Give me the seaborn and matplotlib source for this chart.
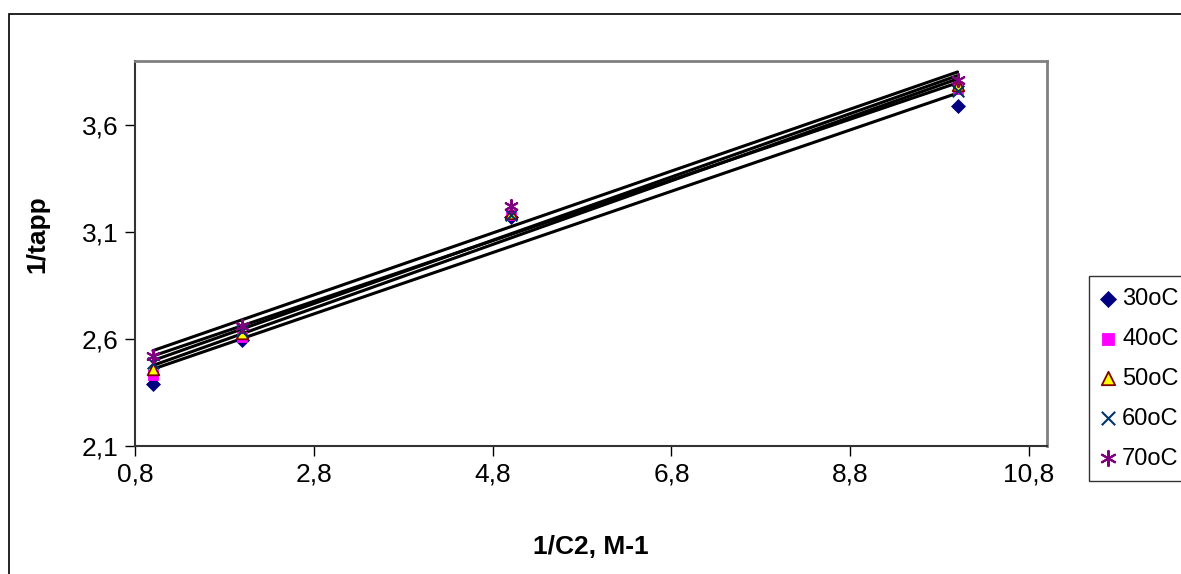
#!/usr/bin/env python3

import numpy as np
import pandas as pd
import seaborn as sns
import matplotlib.pyplot as plt
from matplotlib.patches import Rectangle
from matplotlib.ticker import FuncFormatter

# 1/C2 values (M-1) and 1/tapp for each temperature
inv_c2 = [1.0, 2.0, 5.0, 10.0]
t30 = [2.39, 2.595, 3.17, 3.69]
t40 = [2.43, 2.61, 3.18, 3.77]
t50 = [2.46, 2.63, 3.19, 3.79]
t60 = [2.49, 2.64, 3.18, 3.76]
t70 = [2.52, 2.66, 3.22, 3.81]
labels = ['30oC', '40oC', '50oC', '60oC', '70oC']
x_ticks = [0.8, 2.8, 4.8, 6.8, 8.8, 10.8]
y_ticks = [2.1, 2.6, 3.1, 3.6]

series = [t30, t40, t50, t60, t70]
styles = [
	dict(marker='D', color='#000080', edgecolor='#000080', s=50),
	dict(marker='s', color='#FF00FF', edgecolor='#FF00FF', s=55),
	dict(marker='^', color='#FFFF00', edgecolor='#800000', s=70, linewidth=1.3),
	dict(marker='x', color='#003366', s=70, linewidth=1.5),
	dict(marker=(6, 2, 0), color='#800080', s=90, linewidth=1.5),
]

sns.set_style('white')
plt.rcParams['font.family'] = ['Liberation Sans', 'DejaVu Sans']
plt.rcParams['text.color'] = 'black'
plt.rcParams['axes.labelcolor'] = 'black'
plt.rcParams['xtick.color'] = 'black'
plt.rcParams['ytick.color'] = 'black'

fig = plt.figure(figsize=(11.81, 5.74), dpi=100)
ax = fig.add_axes([135 / 1181, 1 - 446 / 574, (1047 - 135) / 1181, (446 - 61) / 574])

# outer chart frame (runs off the right and bottom edges)
fig.patches.append(Rectangle((9 / 1181, -0.1), 1.2, 1 - 14 / 574 + 0.1,
	transform=fig.transFigure, fill=False, edgecolor='black', linewidth=1.2))

for vals in series:
	df = pd.DataFrame({'x': inv_c2, 'y': vals})
	sns.regplot(data=df, x='x', y='y', ax=ax, scatter=False, ci=None, truncate=True,
		line_kws=dict(color='black', linewidth=2.2))

for vals, lab, st in zip(series, labels, styles):
	df = pd.DataFrame({'x': inv_c2, 'y': vals})
	sns.scatterplot(data=df, x='x', y='y', ax=ax, label=lab, zorder=5, **st)

ax.set_xlim(0.8, 11.0)
ax.set_ylim(2.1, 3.9)
ax.set_xticks(x_ticks)
ax.set_yticks(y_ticks)
fmt = FuncFormatter(lambda v, p: ('%.1f' % v).replace('.', ','))
ax.xaxis.set_major_formatter(fmt)
ax.yaxis.set_major_formatter(fmt)
ax.tick_params(axis='both', direction='out', length=7, width=1, labelsize=19,
	bottom=True, left=True, color='black', labelcolor='black', pad=5)

for side in ['top', 'right']:
	ax.spines[side].set_color('#808080')
	ax.spines[side].set_linewidth(2)
for side in ['left', 'bottom']:
	ax.spines[side].set_color('#333333')
	ax.spines[side].set_linewidth(1.5)

ax.set_xlabel('1/C2, M-1', fontsize=19, fontweight='bold', color='black')
ax.set_ylabel('1/tapp', fontsize=19, fontweight='bold', color='black')
ax.xaxis.set_label_coords(0.5, -0.23)
ax.yaxis.set_label_coords(-0.094, 0.55)

leg = ax.legend(loc='upper left', bbox_to_anchor=(1089 / 1181, 1 - 276 / 574),
	bbox_transform=fig.transFigure, fontsize=17, frameon=True, fancybox=False,
	labelspacing=0.76, handlelength=0.6, handletextpad=0.3, borderpad=0.5,
	borderaxespad=0, markerscale=1.15)
leg.get_frame().set_edgecolor('black')
leg.get_frame().set_linewidth(1)
for t in leg.get_texts():
	t.set_color('black')

fig.savefig('out.png', dpi=100)
